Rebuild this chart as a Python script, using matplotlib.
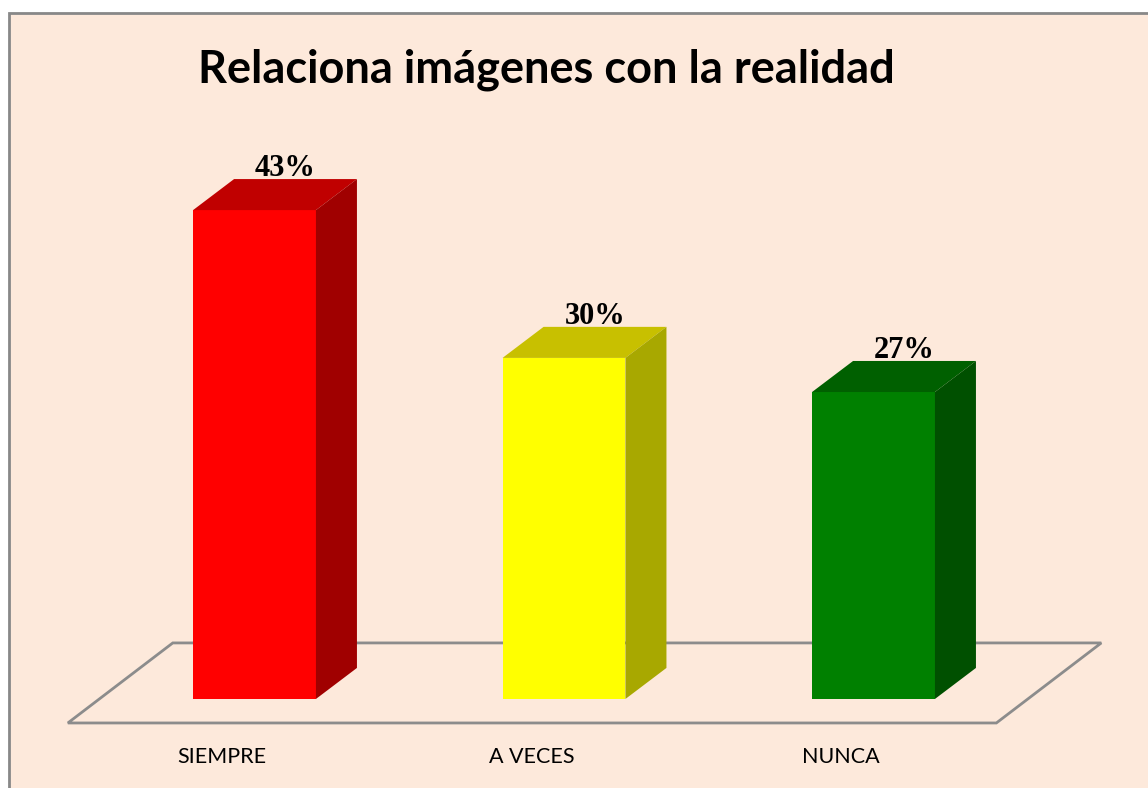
import matplotlib.pyplot as plt
from matplotlib.patches import Polygon, Rectangle

# datos
categorias = ['SIEMPRE', 'A VECES', 'NUNCA']
valores = [43, 30, 27]
etiquetas = ['43%', '30%', '27%']
col_frente = ['#FF0000', '#FFFF00', '#008000']
col_arriba = ['#C00000', '#C8C000', '#006000']
col_lado = ['#A00000', '#A8A800', '#005000']

fondo = '#FDE9DB'

fig = plt.figure(figsize=(11.48, 7.88), dpi=100)
fig.patch.set_facecolor('white')

# marco exterior (se sale por la derecha y abajo)
fig.patches.append(Rectangle((9 / 1148, -0.02), 1.1, 1 - 13 / 788 + 0.02,
                             transform=fig.transFigure, facecolor=fondo,
                             edgecolor='#888888', linewidth=2, zorder=-1))

ax = fig.add_axes([0, 0, 1, 1])
ax.set_xlim(-0.8223, 2.8869)
ax.set_ylim(-7.83, 61.48)
ax.axis('off')
ax.patch.set_alpha(0)
ax.set_zorder(1)

ancho = 0.397      # ancho de barra
dx, dy = 0.1325, 2.73   # profundidad de la barra
fdx, fdy = 0.339, 7.04  # profundidad del suelo
x0 = -0.603             # borde frontal del suelo
suelo_y = -2.11

# suelo
piso = Polygon([(x0, suelo_y), (x0 + 3 * 1.0, suelo_y),
                (x0 + 3 + fdx, suelo_y + fdy), (x0 + fdx, suelo_y + fdy)],
               closed=True, facecolor='none', edgecolor='#8C8C8C', linewidth=2, zorder=1)
ax.add_patch(piso)

for i, v in enumerate(valores):
    l = i - ancho / 2
    r = i + ancho / 2
    ax.add_patch(Polygon([(l, 0), (r, 0), (r, v), (l, v)], facecolor=col_frente[i],
                         edgecolor='none', zorder=3))
    ax.add_patch(Polygon([(l, v), (r, v), (r + dx, v + dy), (l + dx, v + dy)],
                         facecolor=col_arriba[i], edgecolor='none', zorder=3))
    ax.add_patch(Polygon([(r, 0), (r + dx, dy), (r + dx, v + dy), (r, v)],
                         facecolor=col_lado[i], edgecolor='none', zorder=3))
    ax.text(i + 0.1, v + dy + 0.25, etiquetas[i], ha='center', va='baseline',
            fontsize=22, fontweight='bold', family='Liberation Serif', zorder=4)
    ax.text(i - 0.105, -5.1, categorias[i], ha='center', va='center',
            fontsize=15.5, family='Lato', zorder=4)

fig.text(546 / 1148, 1 - 70 / 788, 'Relaciona imágenes con la realidad',
         ha='center', va='center', fontsize=32.5, fontweight='bold', family='Lato')

fig.savefig('out.png', dpi=100, facecolor=fig.get_facecolor())
